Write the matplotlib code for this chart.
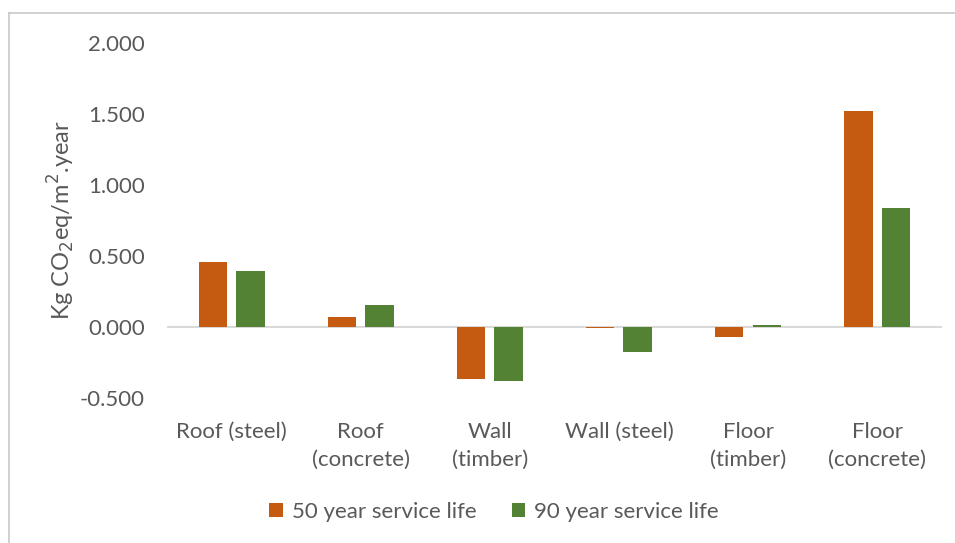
import numpy as np
import matplotlib.pyplot as plt
from matplotlib.lines import Line2D
from matplotlib.ticker import FuncFormatter

# chart data
categories = ["Roof (steel)", "Roof\n(concrete)", "Wall\n(timber)", "Wall (steel)",
              "Floor\n(timber)", "Floor\n(concrete)"]
life_50 = [0.459, 0.070, -0.369, -0.005, -0.071, 1.522]
life_90 = [0.395, 0.157, -0.383, -0.174, 0.016, 0.840]
series_names = ["50 year service life", "90 year service life"]

plt.rcParams['font.family'] = ['Lato', 'DejaVu Sans']
text_col = '#595959'
fs = 16

fig = plt.figure(figsize=(9.55, 5.43), dpi=100)
ax = fig.add_axes([0.175, 0.267, 0.811, 0.654])

x = np.arange(len(categories))
w = 0.22
gap = 0.07
ax.bar(x - (w + gap) / 2, life_50, w, color='#C55A11', label=series_names[0])
ax.bar(x + (w + gap) / 2, life_90, w, color='#548235', label=series_names[1])

ax.axhline(0, color='#D9D9D9', lw=1.5, zorder=0)
ax.set_xlim(-0.5, len(categories) - 0.5)
ax.set_ylim(-0.5, 2.0)
ax.set_yticks(np.arange(-0.5, 2.01, 0.5))
ax.yaxis.set_major_formatter(FuncFormatter(lambda v, p: f"{v:.3f}"))
ax.set_xticks(x)
ax.set_xticklabels(categories, linespacing=1.5)
ax.tick_params(axis='both', length=0, colors=text_col, labelsize=fs)
ax.tick_params(axis='x', pad=17)
ax.tick_params(axis='y', pad=16)
for s in ax.spines.values():
    s.set_visible(False)

ax.set_ylabel("Kg CO$_2$eq/m$^2$.year", color=text_col, fontsize=17, labelpad=2)

ax.legend(loc='center', bbox_to_anchor=(0.422, -0.321), ncol=2, frameon=False,
          fontsize=fs, labelcolor=text_col, handlelength=0.6, handleheight=0.6,
          columnspacing=1.6, handletextpad=0.4)

# chart border (left and top visible)
fig.add_artist(Line2D([9 / 955, 9 / 955], [0, 1 - 13 / 543], color='#C8C8C8', lw=1.2,
                      transform=fig.transFigure))
fig.add_artist(Line2D([9 / 955, 1], [1 - 13 / 543, 1 - 13 / 543], color='#C8C8C8', lw=1.2,
                      transform=fig.transFigure))

plt.savefig("out.png", dpi=100)
